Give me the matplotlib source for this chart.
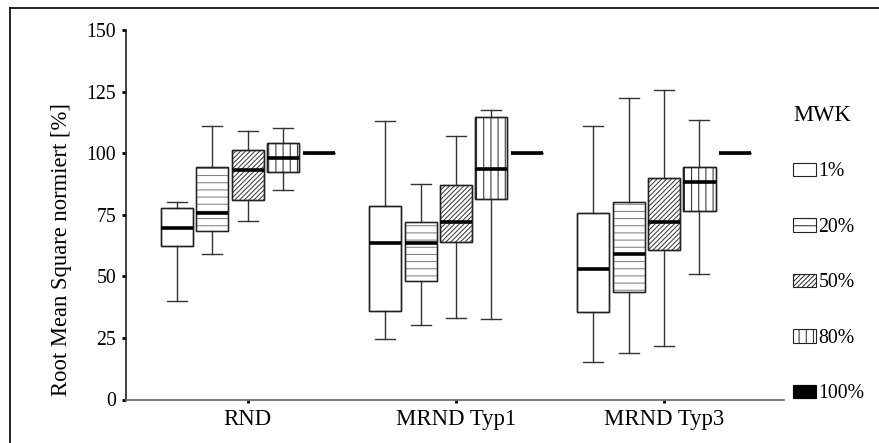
import numpy as np
import matplotlib
matplotlib.use("Agg")
import matplotlib.pyplot as plt
from matplotlib.patches import Patch
from matplotlib.lines import Line2D

plt.rcParams['font.family'] = ['Liberation Serif', 'DejaVu Serif']

# kleinere dpi -> dichtere Schraffur; Größen in pt werden umgerechnet
DPI = 86
S = 100 / DPI
plt.rcParams['hatch.linewidth'] = 0.7 * S

# Kategorien und Legende
categories = ["RND", "MRND Typ1", "MRND Typ3"]
levels = ["1%", "20%", "50%", "80%", "100%"]

# je Kategorie: (unterer Whisker, Q1, Median, Q3, oberer Whisker)
rms_1 = [[40.0, 62.3, 69.5, 77.6, 80.1],
         [24.6, 35.8, 63.5, 78.7, 113.2],
         [15.2, 35.7, 52.9, 75.8, 110.9]]
rms_20 = [[59.1, 68.5, 75.6, 94.5, 111.2],
          [30.1, 48.0, 63.5, 72.2, 87.5],
          [19.0, 43.5, 58.9, 80.1, 122.5]]
rms_50 = [[72.6, 81.1, 93.1, 101.4, 109.0],
          [33.0, 63.8, 71.9, 87.0, 107.1],
          [21.8, 60.8, 71.9, 89.9, 125.7]]
rms_80 = [[85.2, 92.4, 97.9, 104.3, 110.4],
          [32.6, 81.5, 93.5, 114.6, 117.7],
          [51.1, 76.7, 88.3, 94.3, 113.6]]
rms_100 = [[100, 100, 100, 100, 100],
           [100, 100, 100, 100, 100],
           [100, 100, 100, 100, 100]]

all_levels = [rms_1, rms_20, rms_50, rms_80, rms_100]
hatches = ["", "--", "//////", "||", ""]
hatch_colors = ["#222222", "#777777", "#333333", "#222222", "#222222"]
offsets = [-0.34, -0.17, 0.0, 0.17, 0.34]

fig = plt.figure(figsize=(879 / DPI, 443 / DPI), dpi=DPI)
ax = fig.add_axes([126/879, 1-399.5/443, (784-126)/879, (399.5-30)/443])

edge = "#222222"
for lvl, data, h, hc, off in zip(levels, all_levels, hatches, hatch_colors, offsets):
    stats = []
    for d in data:
        stats.append(dict(whislo=d[0], q1=d[1], med=d[2], q3=d[3], whishi=d[4], fliers=[]))
    pos = np.arange(1, len(categories) + 1) + off
    bp = ax.bxp(stats, positions=pos, widths=0.154, capwidths=0.096,
                patch_artist=True, showfliers=False, manage_ticks=False,
                boxprops=dict(facecolor="white", edgecolor=edge, linewidth=1.0 * S),
                whiskerprops=dict(color="#333333", linewidth=1.0 * S),
                capprops=dict(color="#333333", linewidth=1.0 * S),
                medianprops=dict(color="black", linewidth=2.6 * S, solid_capstyle="butt"))
    for b in bp["boxes"]:
        # Schraffur in eigener Farbe, Rand separat darüber
        b.set_edgecolor(hc)
        b.set_hatch(h)
        ax.add_patch(plt.matplotlib.patches.PathPatch(b.get_path(), facecolor="none",
                                                      edgecolor=edge, linewidth=1.0 * S,
                                                      zorder=b.get_zorder()))

ax.set_xlim(0.415, 3.576)
ax.set_ylim(0, 150)
ax.set_yticks([0, 25, 50, 75, 100, 125, 150])
ax.set_xticks([1, 2, 3])
ax.set_xticklabels(categories)
ax.tick_params(axis="y", labelsize=14.2 * S, length=3 * S, width=2 * S, pad=4 * S, color="black")
ax.tick_params(axis="x", labelsize=16.4 * S, length=2 * S, width=2 * S, pad=5 * S, color="black")
ax.spines["top"].set_visible(False)
ax.spines["right"].set_visible(False)
ax.spines["left"].set_color("#222222")
ax.spines["bottom"].set_color("#666666")
ax.spines["left"].set_linewidth(1.2 * S)
ax.spines["bottom"].set_linewidth(1.2 * S)
ax.set_ylabel("Root Mean Square normiert [%]", fontsize=16.3 * S)
ax.yaxis.set_label_coords(-0.0828, 0.405)

# Legende
handles = []
for lvl, h in zip(levels[:-1], hatches[:-1]):
    handles.append(Patch(facecolor="white", edgecolor=edge, hatch=h, linewidth=0.8 * S))
handles.append(Patch(facecolor="black", edgecolor="black"))
fig.legend(handles, levels, loc="upper left", bbox_to_anchor=(793/879, 1-105/443),
           frameon=False, title="MWK", alignment="left", borderpad=0, borderaxespad=0,
           handlelength=1.17, handleheight=0.66, handletextpad=0.12, labelspacing=1.85,
           fontsize=14.2 * S, title_fontsize=16.3 * S)

# Rahmen
fig.add_artist(Line2D([10/879, 10/879], [0, 1-8/443], color="black", linewidth=1.2 * S))
fig.add_artist(Line2D([10/879, 1], [1-8/443, 1-8/443], color="black", linewidth=1.2 * S))

fig.savefig("out.png", dpi=DPI)
